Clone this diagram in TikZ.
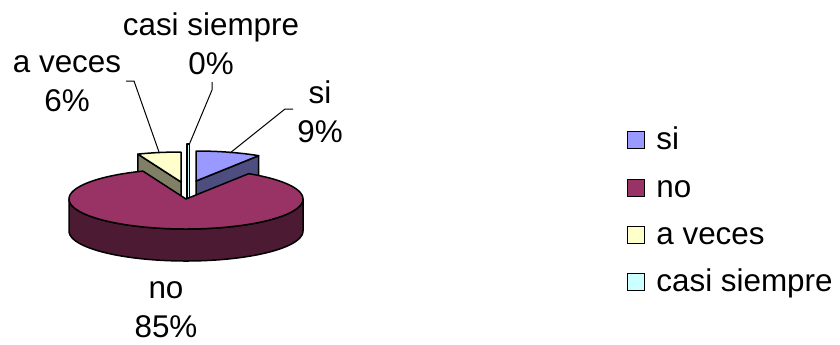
\documentclass[tikz,border=0pt]{standalone}
\usepackage{fontspec}
\setmainfont{Liberation Sans}
\definecolor{siTop}{HTML}{9999FF}
\definecolor{siSide}{HTML}{4D4D80}
\definecolor{noTop}{HTML}{993366}
\definecolor{noSide}{HTML}{4D1A33}
\definecolor{avTop}{HTML}{FFFFCC}
\definecolor{avSide}{HTML}{808066}
\definecolor{csTop}{HTML}{CCFFFF}
\begin{document}
\begin{tikzpicture}[x=0.5pt,y=-0.5pt,
  edge/.style={draw=black,line width=0.75pt,line join=round},
  leader/.style={draw=black,line width=0.5pt},
  lbl/.style={font=\fontsize{15.7}{19.5}\selectfont,inner sep=0pt,anchor=base},
  legtxt/.style={font=\fontsize{15.7}{19.5}\selectfont,inner sep=0pt,anchor=base west},
  legbox/.style={draw=black,line width=0.9pt,minimum size=8.5pt,inner sep=0pt}]
\useasboundingbox (0,0) rectangle (840,344);
% si slice (exploded)
\draw[edge,fill=siSide] (196,181) -- ({196+117*sin(32.4)},{181-30*cos(32.4)}) -- ({196+117*sin(32.4)},{213-30*cos(32.4)}) -- (196,213) -- cycle;
\draw[edge,fill=siTop] (196,181) -- plot[domain=0:32.4,samples=30,variable=\t] ({196+117*sin(\t)},{181-30*cos(\t)}) -- cycle;
% a veces slice (exploded)
\draw[edge,fill=avSide] (181,182) -- ({181+117*sin(338.4)},{182-30*cos(338.4)}) -- ({181+117*sin(338.4)},{214-30*cos(338.4)}) -- (181,214) -- cycle;
\draw[edge,fill=avTop] (181,182) -- plot[domain=338.4:360,samples=30,variable=\t] ({181+117*sin(\t)},{182-30*cos(\t)}) -- cycle;
% casi siempre slice (0%)
\draw[edge,fill=csTop,line width=0.6pt] (187,144) rectangle (189.5,199);
% no slice
\draw[edge,fill=noSide] plot[domain=90:270,samples=80,variable=\t] ({186+117*sin(\t)},{199-30*cos(\t)}) -- plot[domain=270:90,samples=80,variable=\t] ({186+117*sin(\t)},{231-30*cos(\t)}) -- cycle;
\draw[edge,fill=noTop] (186,199) -- plot[domain=32.4:338.4,samples=150,variable=\t] ({186+117*sin(\t)},{199-30*cos(\t)}) -- cycle;
% labels
\node[lbl] (Lcs) at (211,35) {\begin{tabular}[t]{@{}c@{}}casi siempre\\0\%\end{tabular}};
\node[lbl] (Lav) at (67,72) {\begin{tabular}[t]{@{}c@{}}a veces\\6\%\end{tabular}};
\node[lbl] (Lsi) at (320,103) {\begin{tabular}[t]{@{}c@{}}si\\9\%\end{tabular}};
\node[lbl] (Lno) at (166,298) {\begin{tabular}[t]{@{}c@{}}no\\85\%\end{tabular}};
% leader lines
\coordinate (avA) at (126,81); \coordinate (avB) at (134,81); \coordinate (avC) at (159,152);
\coordinate (csA) at (212,82); \coordinate (csB) at (212,90); \coordinate (csC) at (189,145);
\coordinate (siA) at (293,109); \coordinate (siB) at (285,109); \coordinate (siC) at (230,153);
\draw[leader] (avA) -- (avB) -- (avC);
\draw[leader] (csA) -- (csB) -- (csC);
\draw[leader] (siA) -- (siB) -- (siC);
% legend
\node[legbox,fill=siTop] (k1) at (636,140) {};
\node[legbox,fill=noTop] (k2) at (636,188) {};
\node[legbox,fill=avTop] (k3) at (636,235) {};
\node[legbox,fill=csTop] (k4) at (636,282) {};
\node[legtxt] (t1) at (656,149) {si};
\node[legtxt] (t2) at (656,197) {no};
\node[legtxt] (t3) at (656,244) {a veces};
\node[legtxt] (t4) at (656,291) {casi siempre};
\end{tikzpicture}
\end{document}
